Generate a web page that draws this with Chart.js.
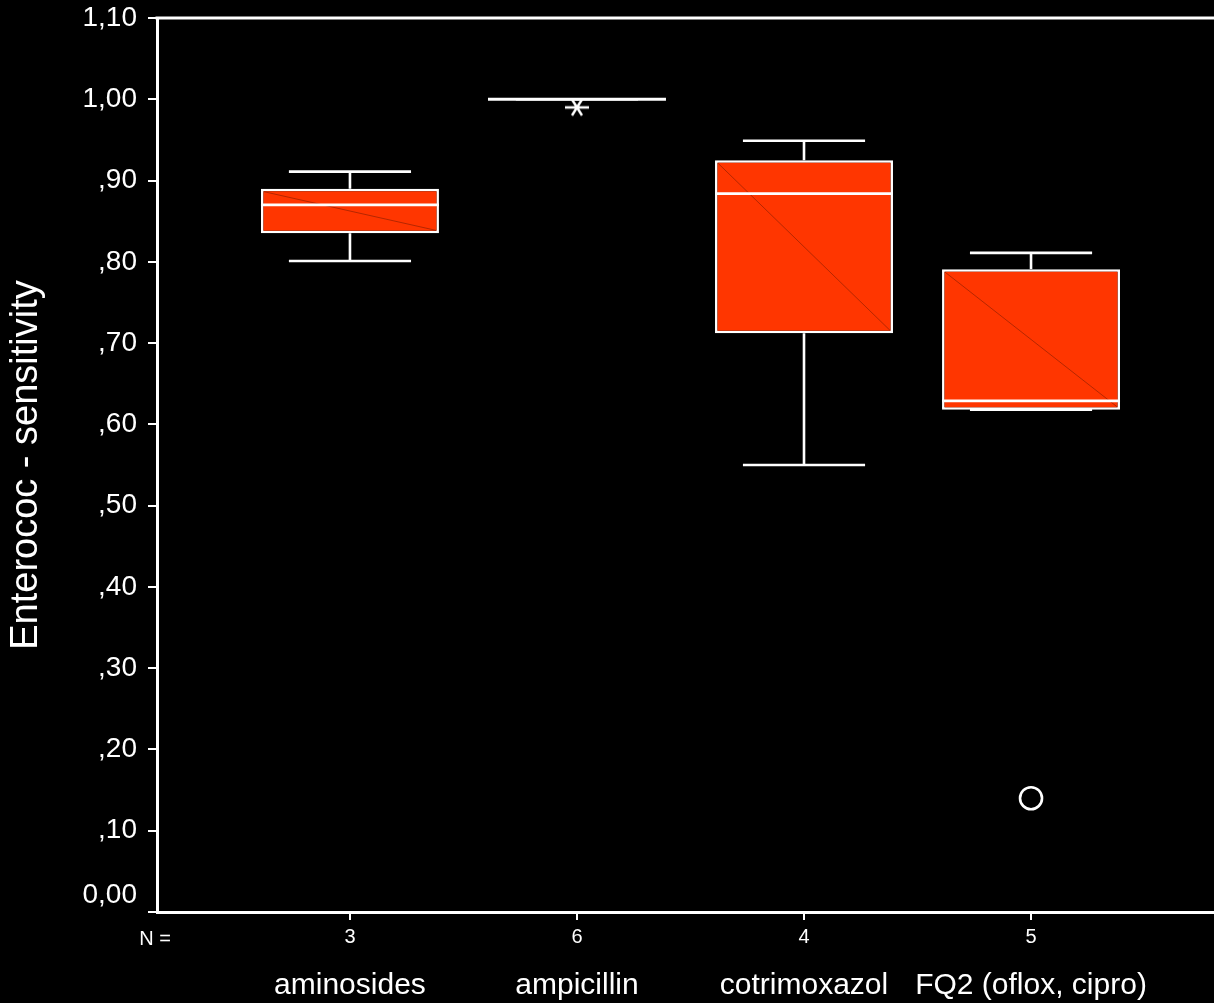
<!DOCTYPE html>
<html>
<head>
<meta charset="utf-8">
<title>Enterococ - sensitivity</title>
<script src="https://cdn.jsdelivr.net/npm/chart.js@4.4.1/dist/chart.umd.min.js"></script>
<style>
  html, body { margin: 0; padding: 0; background: #000; }
  #wrap { width: 1214px; height: 1003px; }
</style>
</head>
<body>
<div id="wrap"><canvas id="c" width="1214" height="1003"></canvas></div>
<script>
// Box-plot summaries per antibiotic group (sensitivity, 0..1)
const categories   = ['aminosides', 'ampicillin', 'cotrimoxazol', 'FQ2 (oflox, cipro)'];
const nCounts      = [3, 6, 4, 5];
const whiskerLow   = [0.801, 1.000, 0.550, 0.618];
const q1           = [0.835, 1.000, 0.712, 0.618];
const median       = [0.870, 1.000, 0.884, 0.629];
const q3           = [0.890, 1.000, 0.925, 0.791];
const whiskerHigh  = [0.911, 1.000, 0.949, 0.811];
// extreme values (asterisk) and outliers (circle): category position and value
const extremeCat   = [2];
const extremeVal   = [0.990];
const outlierCat   = [4];
const outlierVal   = [0.140];
const yTickLabels  = ['0,00', ',10', ',20', ',30', ',40', ',50', ',60', ',70', ',80', ',90', '1,00', '1,10'];

const FONT = "'Liberation Sans', Arial, Helvetica, sans-serif";
const BOX_FRACTION = 0.784;   // box width relative to category spacing
const CAP_HALF = 0.269;       // whisker cap half-width in category units

const positions = categories.map((_, i) => i + 1);

const boxData = positions.map((p, i) => ({ x: p, y: [q1[i], q3[i]] }));
const extremeData = extremeCat.map((c, i) => ({ x: c, y: extremeVal[i] }));
const outlierData = outlierCat.map((c, i) => ({ x: c, y: outlierVal[i] }));

// six-armed asterisk marker for extreme values
function makeAsterisk() {
  const cv = document.createElement('canvas');
  cv.width = 28; cv.height = 22;
  const g = cv.getContext('2d');
  g.strokeStyle = '#fff';
  g.lineWidth = 2.4;
  g.lineCap = 'butt';
  const cx = 14, cy = 11;
  g.beginPath();
  g.moveTo(cx - 12, cy); g.lineTo(cx + 12, cy);
  g.moveTo(cx - 5, cy - 8); g.lineTo(cx + 5, cy + 8);
  g.moveTo(cx + 5, cy - 8); g.lineTo(cx - 5, cy + 8);
  g.stroke();
  return cv;
}

// whiskers, caps, medians and the faint box diagonal
const boxDetails = {
  id: 'boxDetails',
  afterDatasetsDraw(chart) {
    const { ctx } = chart;
    const xs = chart.scales.x, ys = chart.scales.y;
    const meta = chart.getDatasetMeta(0);
    ctx.save();
    positions.forEach((p, i) => {
      const cx = xs.getPixelForValue(p);
      const bar = meta.data[i];
      const half = bar.width / 2;
      const top = ys.getPixelForValue(q3[i]);
      const bot = ys.getPixelForValue(q1[i]);
      // faint diagonal across box
      if (bot - top > 2) {
        ctx.strokeStyle = 'rgba(120,25,0,0.55)';
        ctx.lineWidth = 1;
        ctx.beginPath();
        ctx.moveTo(cx - half + 3, top + 3);
        ctx.lineTo(cx + half - 3, bot - 3);
        ctx.stroke();
      }
      ctx.strokeStyle = '#ffffff';
      ctx.lineWidth = 2.6;
      // whisker stems
      const wh = ys.getPixelForValue(whiskerHigh[i]);
      const wl = ys.getPixelForValue(whiskerLow[i]);
      ctx.beginPath();
      if (wh < top) { ctx.moveTo(cx, top); ctx.lineTo(cx, wh); }
      if (wl > bot) { ctx.moveTo(cx, bot); ctx.lineTo(cx, wl); }
      ctx.stroke();
      // caps
      const cl = xs.getPixelForValue(p - CAP_HALF), cr = xs.getPixelForValue(p + CAP_HALF);
      ctx.beginPath();
      ctx.moveTo(cl, wh); ctx.lineTo(cr, wh);
      ctx.moveTo(cl, wl); ctx.lineTo(cr, wl);
      ctx.stroke();
      // median
      const m = ys.getPixelForValue(median[i]);
      ctx.lineWidth = 2.8;
      ctx.beginPath();
      ctx.moveTo(cx - half, m); ctx.lineTo(cx + half, m);
      ctx.stroke();
    });
    ctx.restore();
  }
};

// background, top frame line and text rows below the axis
const frameAndLabels = {
  id: 'frameAndLabels',
  beforeDraw(chart) {
    const { ctx } = chart;
    ctx.save();
    ctx.fillStyle = '#000';
    ctx.fillRect(0, 0, chart.width, chart.height);
    ctx.restore();
  },
  afterDraw(chart) {
    const { ctx, chartArea } = chart;
    const xs = chart.scales.x, ys = chart.scales.y;
    ctx.save();
    ctx.strokeStyle = '#fff';
    ctx.lineWidth = 3;
    ctx.beginPath();
    ctx.moveTo(chartArea.left - 1.5, chartArea.top);
    ctx.lineTo(chart.width, chartArea.top);
    ctx.stroke();

    ctx.fillStyle = '#fff';
    ctx.textBaseline = 'middle';
    // zero label sits above its tick
    ctx.font = '28px ' + FONT;
    ctx.textAlign = 'right';
    ctx.fillText(yTickLabels[0], 137, ys.getPixelForValue(0) - 17);

    ctx.textAlign = 'center';
    ctx.font = '20px ' + FONT;
    ctx.fillText('N =', 155, 939);
    ctx.font = '30px ' + FONT;
    positions.forEach((p, i) => {
      ctx.fillText(categories[i], xs.getPixelForValue(p), 986);
    });
    ctx.restore();
  }
};

new Chart(document.getElementById('c'), {
  data: {
    datasets: [
      {
        type: 'bar',
        label: 'box',
        data: boxData,
        backgroundColor: '#ff3600',
        borderColor: '#ffffff',
        borderWidth: 2.5,
        borderSkipped: false,
        barPercentage: BOX_FRACTION,
        categoryPercentage: 1
      },
      {
        type: 'scatter',
        label: 'extreme',
        data: extremeData,
        pointStyle: makeAsterisk(),
        radius: 11
      },
      {
        type: 'scatter',
        label: 'outlier',
        data: outlierData,
        pointStyle: 'circle',
        radius: 11,
        borderColor: '#ffffff',
        borderWidth: 2.6,
        backgroundColor: '#000000'
      }
    ]
  },
  options: {
    responsive: false,
    animation: false,
    events: [],
    layout: { autoPadding: false, padding: { top: 18, right: 0, left: 0, bottom: 0 } },
    plugins: { legend: { display: false }, tooltip: { enabled: false } },
    scales: {
      x: {
        type: 'linear',
        position: 'bottom',
        offset: false,
        min: 0.150,
        max: 4.806,
        afterBuildTicks(scale) { scale.ticks = positions.map(v => ({ value: v })); },
        afterFit(scale) {
          scale.height = 91;
          scale.paddingLeft = 0; scale.paddingRight = 0;
        },
        grid: { display: true, offset: false, drawOnChartArea: false, drawTicks: true, tickLength: 8, color: '#fff', lineWidth: 2 },
        border: { display: true, color: '#fff', width: 3 },
        ticks: {
          color: '#fff',
          font: { family: FONT, size: 20 },
          padding: 5,
          maxRotation: 0,
          autoSkip: false,
          callback(value, index) { return String(nCounts[index]); }
        }
      },
      y: {
        type: 'linear',
        min: 0,
        max: 1.1,
        afterBuildTicks(scale) { scale.ticks = yTickLabels.map((_, i) => ({ value: i / 10 })); },
        afterFit(scale) {
          scale.width = 157;
          scale.paddingTop = 0; scale.paddingBottom = 0;
        },
        grid: { display: true, drawOnChartArea: false, drawTicks: true, tickLength: 9, color: '#fff', lineWidth: 2 },
        border: { display: true, color: '#fff', width: 3 },
        ticks: {
          color: '#fff',
          font: { family: FONT, size: 28 },
          padding: 11,
          autoSkip: false,
          callback(value, index) { return index === 0 ? '' : yTickLabels[index]; }
        },
        title: {
          display: true,
          text: 'Enterococ - sensitivity',
          color: '#fff',
          font: { family: FONT, size: 38 },
          padding: { top: 4, bottom: 0 }
        }
      }
    }
  },
  plugins: [boxDetails, frameAndLabels]
});
</script>
</body>
</html>
